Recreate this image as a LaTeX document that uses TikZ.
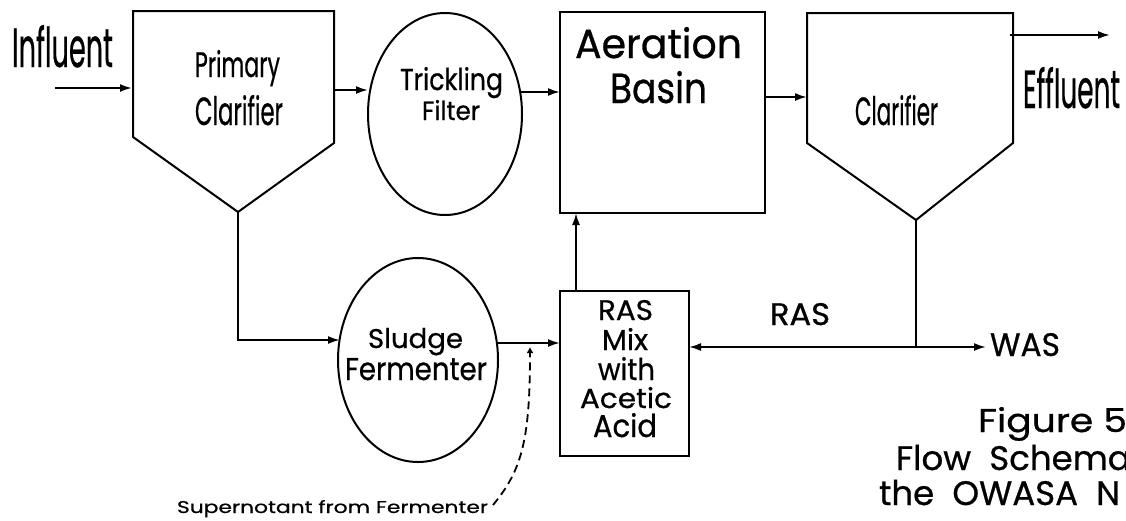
\documentclass[tikz,border=0pt]{standalone}
\usepackage{fontspec}
\setmainfont{Poppins}[FakeBold=0.7]
\usepackage{graphicx}
\usetikzlibrary{shapes.geometric,arrows.meta}
\newcommand{\fitbox}[3]{\resizebox{#1pt}{#2pt}{#3}}
\begin{document}
\begin{tikzpicture}[x=1pt,y=-1pt, line width=2pt,
  >={Latex[length=12pt,width=8pt]},
  lbl/.style={inner sep=0pt, outer sep=0pt, anchor=base west},
  unit/.style={draw, inner sep=0pt, outer sep=0pt},
  vessel/.style={draw, ellipse, inner sep=0pt, outer sep=0pt},
  flow/.style={->},
  capt/.style={inner sep=0pt, anchor=base west, font=\fontsize{34}{34}\selectfont}]
\useasboundingbox (0,0) rectangle (1126,520);
\clip (0,0) rectangle (1126,520);
\fill[white] (0,0) rectangle (1126,520);

% Primary clarifier
\coordinate (pcTL) at (133,11);
\coordinate (pcTR) at (334,11);
\coordinate (pcR) at (334,143);
\coordinate (pcB) at (238,212);
\coordinate (pcL) at (133,137);
\draw[line join=miter] (pcTL) -- (pcTR) -- (pcR) -- (pcB) -- (pcL) -- cycle;
\node[lbl] (pcT1) at (195,77) {\fitbox{85}{27}{Primary}};
\node[lbl] (pcT2) at (195,125) {\fitbox{88}{30}{Clarifier}};

% Influent
\node[lbl] (infl) at (12,67) {\fitbox{101}{42}{Influent}};
\coordinate (inStart) at (55,88);
\coordinate (pcIn) at (132,88);
\draw[flow] (inStart) -- (pcIn);

% Trickling filter
\node[vessel, minimum width=154pt, minimum height=202pt] (tf) at (445,114) {};
\node[lbl] (tfT1) at (400,90) {\fitbox{103}{23}{Trickling}};
\node[lbl] (tfT2) at (422,120) {\fitbox{58}{20}{Filter}};
\coordinate (pcOut) at (334,90);
\coordinate (tfIn) at (368,90);
\draw[flow] (pcOut) -- (tfIn);

% Aeration basin
\node[unit, minimum width=205pt, minimum height=201pt, anchor=north west] (ab) at (560,12) {};
\node[lbl] (abT1) at (575,58) {\fitbox{167}{31}{Aeration}};
\node[lbl] (abT2) at (610,103) {\fitbox{97}{32}{Basin}};
\coordinate (tfOut) at (520,92);
\draw[flow] (tfOut) -- (tfOut -| ab.west);

% Clarifier
\coordinate (clTL) at (807,13);
\coordinate (clTR) at (1013,13);
\coordinate (clR) at (1013,143);
\coordinate (clB) at (916,220);
\coordinate (clL) at (807,143);
\draw[line join=miter] (clTL) -- (clTR) -- (clR) -- (clB) -- (clL) -- cycle;
\node[lbl] (clT) at (855,125) {\fitbox{83}{30}{Clarifier}};
\coordinate (abOut) at (765,97);
\draw[flow] (abOut) -- (abOut -| clL);

% Effluent
\coordinate (clEff) at (1010,35);
\coordinate (effEnd) at (1110,35);
\draw[flow] (clEff) -- (effEnd);
\node[lbl] (effl) at (1023,108) {\fitbox{97}{41}{Effluent}};

% RAS mix box
\node[unit, minimum width=129pt, minimum height=165pt, anchor=north west] (rb) at (560,291) {};
\node[lbl] (rbT1) at (598,320) {\fitbox{55}{20}{RAS}};
\node[lbl] (rbT2) at (602,350) {\fitbox{46}{22}{Mix}};
\node[lbl] (rbT3) at (598,380) {\fitbox{57}{23}{with}};
\node[lbl] (rbT4) at (580,408) {\fitbox{92}{21}{Acetic}};
\node[lbl] (rbT5) at (593,437) {\fitbox{64}{24}{Acid}};
\draw[flow] ([xshift=16pt]rb.north west) -- ([xshift=16pt]ab.south west);

% RAS / WAS
\coordinate (junc) at (916,347);
\coordinate (wasEnd) at (986,347);
\draw (clB) -- (junc);
\draw[flow] (junc) -- (junc -| rb.east);
\draw[flow] (junc) -- (wasEnd);
\node[lbl] (rasL) at (770,325) {\fitbox{60}{22}{RAS}};
\node[lbl] (wasL) at (990,356) {\fitbox{70}{23}{WAS}};

% Sludge fermenter
\node[vessel, minimum width=160pt, minimum height=204pt] (sf) at (418,360) {};
\node[lbl] (sfT1) at (368,348) {\fitbox{95}{20}{Sludge}};
\node[lbl] (sfT2) at (345,380) {\fitbox{142}{22}{Fermenter}};
\coordinate (pcDown) at (238,340);
\coordinate (sfIn) at (340,340);
\draw[flow] (pcB) -- (pcDown) -- (sfIn);
\coordinate (sfOut) at (497,343);
\draw[flow] (sfOut) -- (sfOut -| rb.west);

% Supernatant
\node[lbl] (sup) at (177,513) {\fitbox{311}{13}{Supernotant from Fermenter}};
\coordinate (supStart) at (493,505);
\coordinate (supEnd) at (530,347);
\draw[line width=1.8pt, dash pattern=on 8pt off 5pt, -{Latex[length=6pt,width=7pt]}]
  (supStart) .. controls (522,470) and (530,440) .. (supEnd);

% Caption
\node[lbl] (cap1) at (978,432) {\fitbox{149}{25}{Figure 5}};
\node[capt] (cap2) at (895,470) {Flow\ \ Schema};
\node[capt] (cap3) at (878,505) {the\ \ OWASA\ \ N};
\end{tikzpicture}
\end{document}
